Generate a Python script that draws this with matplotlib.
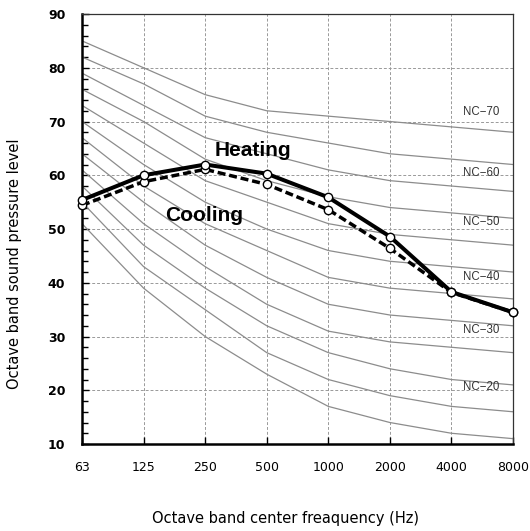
import numpy as np
import matplotlib
matplotlib.use("Agg")
from matplotlib import pyplot as plt
from matplotlib.ticker import MultipleLocator

freqs = ["63", "125", "250", "500", "1000", "2000", "4000", "8000"]

# NC curves (NC-15 ... NC-70)
nc_levels = [15, 20, 25, 30, 35, 40, 45, 50, 55, 60, 65, 70]
nc_63 = [51, 55, 58, 61, 64, 67, 70, 73, 76, 79, 82, 85]
nc_125 = [39, 43, 47, 51, 55, 58, 62, 66, 70, 73, 77, 80]
nc_250 = [30, 35, 39, 43, 47, 51, 55, 59, 63, 67, 71, 75]
nc_500 = [23, 27, 32, 36, 41, 46, 50, 55, 59, 64, 68, 72]
nc_1000 = [17, 22, 27, 31, 36, 41, 46, 51, 56, 61, 66, 71]
nc_2000 = [14, 19, 24, 29, 34, 39, 44, 49, 54, 59, 64, 70]
nc_4000 = [12, 17, 22, 28, 33, 38, 43, 48, 53, 58, 63, 69]
nc_8000 = [11, 16, 21, 27, 32, 37, 42, 47, 52, 57, 62, 68]
nc_labels = ["NC\u221220", "NC\u221230", "NC\u221240", "NC\u221250", "NC\u221260", "NC\u221270"]
nc_label_y = [20.6, 31.2, 41.0, 51.3, 60.4, 71.8]

heating = [55.4, 60.0, 62.0, 60.3, 55.9, 48.6, 38.3, 34.5]
cooling = [54.4, 58.8, 61.1, 58.3, 53.6, 46.4, 38.2, 34.5]

nc_table = np.array([nc_63, nc_125, nc_250, nc_500, nc_1000, nc_2000, nc_4000, nc_8000]).T
x = np.arange(len(freqs))

fig = plt.figure(figsize=(5.30, 5.31), dpi=100)
ax = fig.add_axes([0.1547, 0.1638, 0.8133, 0.8098])

for row in nc_table:
    ax.plot(x, row, color="#8c8c8c", lw=0.9, zorder=2)

for lab, yy in zip(nc_labels, nc_label_y):
    ax.text(6.48, yy, lab, fontsize=8.3, color="#333333", ha="center", va="center",
            family="Liberation Sans", zorder=3)

ax.plot(x, cooling, color="black", lw=2.5, ls=(0, (2.3, 1.1)), marker="o", ms=6,
        mfc="white", mec="black", mew=1.0, zorder=4, clip_on=False)
ax.plot(x, heating, color="black", lw=2.9, marker="o", ms=6,
        mfc="white", mec="black", mew=1.0, zorder=5, clip_on=False)

ax.text(2.15, 64.6, "Heating", fontsize=15, fontweight="bold", va="center",
        family="Liberation Sans")
ax.text(1.35, 52.5, "Cooling", fontsize=15, fontweight="bold", va="center",
        family="Liberation Sans")

ax.set_xlim(0, 7)
ax.set_ylim(10, 90)
ax.set_xticks(x)
ax.set_xticklabels(freqs, fontsize=9)
ax.yaxis.set_major_locator(MultipleLocator(10))
ax.yaxis.set_minor_locator(MultipleLocator(2))
for t in ax.get_yticklabels():
    t.set_fontweight("bold")
    t.set_fontsize(9)
ax.tick_params(axis="both", which="major", direction="in", length=5, width=1)
ax.tick_params(axis="x", pad=12)
ax.tick_params(axis="y", which="minor", direction="in", length=4, width=1)
ax.tick_params(axis="y", pad=12)

ax.grid(True, which="major", color="#999999", ls=(0, (3, 2)), lw=0.7, zorder=1)
ax.set_axisbelow(True)

for s in ["left", "bottom"]:
    ax.spines[s].set_linewidth(1.8)
for s in ["top", "right"]:
    ax.spines[s].set_linewidth(0.9)
    ax.spines[s].set_color("#333333")

ax.set_xlabel("Octave band center freaquency (Hz)", fontsize=10.5)
ax.set_ylabel("Octave band sound pressure level", fontsize=10.5)
ax.xaxis.set_label_coords(0.471, -0.156)
ax.yaxis.set_label_coords(-0.139, 0.42)

fig.savefig("out.png", dpi=100)
